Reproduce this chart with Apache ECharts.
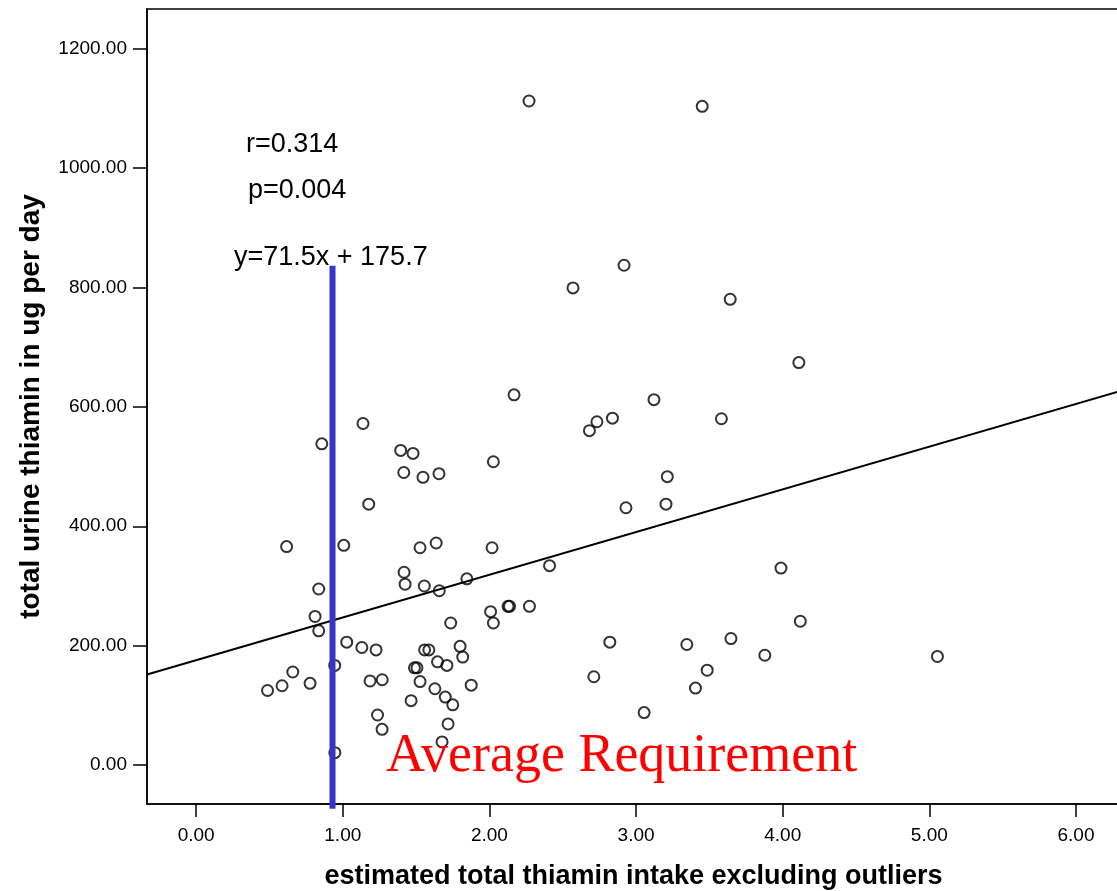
<!DOCTYPE html>
<html>
<head>
<meta charset="utf-8">
<script src="https://cdn.jsdelivr.net/npm/echarts@6/dist/echarts.min.js"></script>
<style>html,body{margin:0;padding:0;background:#fff}#c{width:1117px;height:891px}</style>
</head>
<body>
<div id="c"></div>
<script>
// estimated total thiamin intake (x) vs total urine thiamin (y)
const intakeX = [2.270,3.451,2.918,2.570,3.642,4.110,2.168,3.122,2.733,2.682,2.839,3.582,1.138,0.857,1.395,1.479,2.027,1.416,1.547,1.656,3.213,2.931,3.204,1.177,0.617,1.007,1.527,1.637,2.018,2.410,3.988,1.418,1.425,1.556,1.658,1.846,0.836,0.811,0.836,2.008,2.027,2.127,2.137,2.273,1.736,4.120,1.027,1.130,1.227,1.558,1.587,1.800,1.818,2.821,3.346,3.647,3.878,5.055,0.945,1.489,1.506,1.646,1.710,0.659,0.586,0.487,0.777,1.186,1.269,1.527,1.628,1.699,1.750,1.876,1.466,2.712,3.485,3.405,3.055,1.237,1.268,1.718,1.677,0.946];
const urineY = [1112,1103,837,799,780,674,620,612,575,560,581,580,572,538,527,522,508,490,482,488,483,431,437,437,366,368,364,372,364,334,330,323,303,300,292,312,295,249,225,257,238,266,266,266,238,241,206,197,193,193,193,199,181,206,202,212,184,182,167,163,163,173,167,156,133,125,137,141,143,140,128,114,101,134,108,148,159,129,88,84,60,69,39,21];
const xTicks = [0,1,2,3,4,5,6];
const yTicks = [0,200,400,600,800,1000,1200];
const fitSlope = [71.5];
const fitIntercept = [175.7];
const requirementX = [0.93];
const requirementY = [-73, 836];
const annotations = ["r=0.314", "p=0.004", "y=71.5x + 175.7", "Average Requirement"];
const xTitle = "estimated total thiamin intake excluding outliers";
const yTitle = "total urine thiamin in ug per day";

const xMin = -0.335, xMax = 6.30, yMin = -65, yMax = 1266;
const pts = intakeX.map((x,i)=>[x, urineY[i]]);
const fitLine = [xMin, xMax].map(x=>[x, fitSlope[0]*x + fitIntercept[0]]);
const reqLine = requirementY.map(y=>[requirementX[0], y]);

const chart = echarts.init(document.getElementById('c'), null, {renderer:'canvas'});
const sans = 'Liberation Sans, Arial, sans-serif';
chart.setOption({
  animation:false,
  backgroundColor:'#fff',
  grid:{left:147, right:-3, top:9, bottom:87, show:true, borderColor:'#000', borderWidth:1.5, containLabel:false, outerBoundsMode:'none'},
  xAxis:{
    type:'value', min:xMin, max:xMax,
    name:xTitle, nameLocation:'middle', nameGap:59,
    nameTextStyle:{fontFamily:sans, fontWeight:'bold', fontSize:27, color:'#000'},
    axisLine:{show:true, onZero:false, lineStyle:{color:'#000', width:1.5}},
    axisTick:{show:true, length:13, lineStyle:{color:'#000', width:1.5}, customValues:xTicks},
    axisLabel:{fontFamily:sans, fontSize:19, color:'#000', margin:22, customValues:xTicks, formatter:v=>v.toFixed(2)},
    splitLine:{show:false}
  },
  yAxis:{
    type:'value', min:yMin, max:yMax,
    name:yTitle, nameLocation:'middle', nameGap:102, nameRotate:90,
    nameTextStyle:{fontFamily:sans, fontWeight:'bold', fontSize:28, color:'#000'},
    axisLine:{show:true, onZero:false, lineStyle:{color:'#000', width:1.5}},
    axisTick:{show:true, length:14, lineStyle:{color:'#000', width:1.5}, customValues:yTicks},
    axisLabel:{fontFamily:sans, fontSize:19, color:'#000', margin:20, customValues:yTicks, formatter:v=>v.toFixed(2)},
    splitLine:{show:false}
  },
  series:[
    {type:'line', data:fitLine, symbol:'none', lineStyle:{color:'#000', width:2}, z:2},
    {type:'scatter', data:pts, symbol:'circle', symbolSize:11,
      itemStyle:{color:'rgba(255,255,255,0)', borderColor:'#000', borderWidth:2}, z:3},
    {type:'line', data:reqLine, symbol:'none', clip:false, lineStyle:{color:'#3535c8', width:6}, z:4}
  ],
  graphic:[
    {type:'text', x:246, y:144.5, style:{text:annotations[0], font:'27px '+sans, fill:'#000', verticalAlign:'middle'}},
    {type:'text', x:248, y:190.5, style:{text:annotations[1], font:'27px '+sans, fill:'#000', verticalAlign:'middle'}},
    {type:'text', x:234, y:257.5, style:{text:annotations[2], font:'27px '+sans, fill:'#000', verticalAlign:'middle'}, z:10},
    {type:'text', x:386, y:757, style:{text:annotations[3], font:'54px Liberation Serif, Times New Roman, serif', fill:'#ff0000', verticalAlign:'middle'}, z:10}
  ]
});
</script>
</body>
</html>
